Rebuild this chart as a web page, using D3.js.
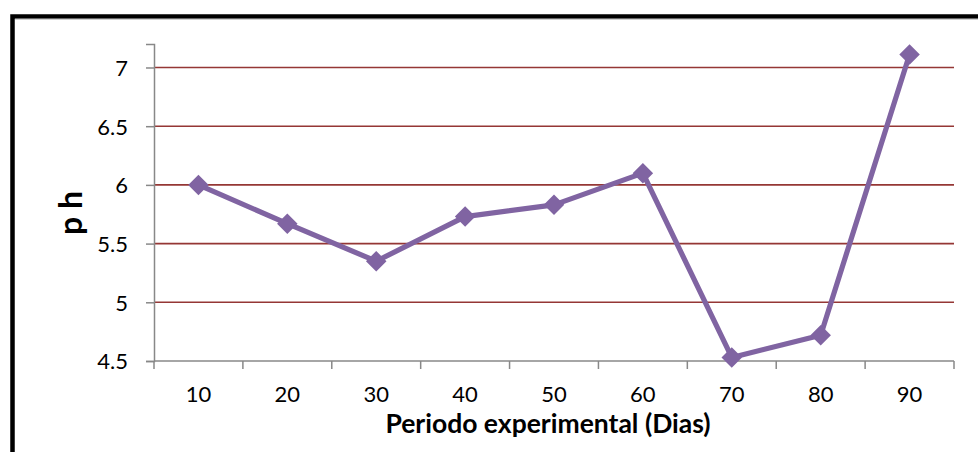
<!DOCTYPE html>
<html>
<head>
<meta charset="utf-8">
<script src="https://cdn.jsdelivr.net/npm/d3@7"></script>
<style>
  body { margin: 0; background: #fff; }
  svg text { font-family: Lato, "Open Sans", sans-serif; fill: #000; }
</style>
</head>
<body>
<svg id="chart"></svg>
<script>
const days = ["10", "20", "30", "40", "50", "60", "70", "80", "90"];
const phValues = [6.0, 5.67, 5.35, 5.73, 5.83, 6.1, 4.53, 4.72, 7.11];
const yTicks = [4.5, 5, 5.5, 6, 6.5, 7];

const width = 978;
const height = 452;
const margin = { top: 44, right: 24, bottom: 91, left: 154 };

const svg = d3.select("#chart").attr("width", width).attr("height", height);

// chart frame (cropped on right/bottom)
svg.append("path")
  .attr("d", `M12.5,${height} L12.5,16.5 L${width},16.5`)
  .attr("fill", "none")
  .attr("stroke", "#000")
  .attr("stroke-width", 4.5);
svg.append("line")
  .attr("x1", 15).attr("x2", width)
  .attr("y1", 19.2).attr("y2", 19.2)
  .attr("stroke", "#bbb")
  .attr("stroke-width", 1);

const x = d3.scaleBand()
  .domain(days)
  .range([margin.left, width - margin.right])
  .padding(0);

const y = d3.scaleLinear()
  .domain([4.5, 7.2])
  .range([height - margin.bottom, margin.top]);

// gridlines
svg.append("g")
  .selectAll("line")
  .data(yTicks.filter((d) => d !== 4.5))
  .enter()
  .append("line")
  .attr("x1", margin.left)
  .attr("x2", width - margin.right)
  .attr("y1", (d) => y(d))
  .attr("y2", (d) => y(d))
  .attr("stroke", "#953735")
  .attr("stroke-width", 1.6);

// y axis
const yAxis = d3.axisLeft(y)
  .tickValues(yTicks)
  .tickSize(8)
  .tickPadding(18)
  .tickFormat(d3.format("~g"));

const gy = svg.append("g")
  .attr("transform", `translate(${margin.left},0)`)
  .call(yAxis);
gy.select(".domain").attr("stroke", "#888").attr("stroke-width", 1.5);
gy.selectAll(".tick line").attr("stroke", "#888").attr("stroke-width", 1.5);
gy.selectAll(".tick text").style("font-size", "22px").attr("dy", "0.36em");

// x axis (ticks on category boundaries)
const gx = svg.append("g")
  .attr("transform", `translate(0,${y(4.5)})`);
gx.append("line")
  .attr("x1", margin.left)
  .attr("x2", width - margin.right)
  .attr("stroke", "#888")
  .attr("stroke-width", 1.5);
const bounds = days.map((d) => x(d)).concat([x(days[days.length - 1]) + x.bandwidth()]);
gx.selectAll(".bound")
  .data(bounds)
  .enter()
  .append("line")
  .attr("class", "bound")
  .attr("x1", (d) => d)
  .attr("x2", (d) => d)
  .attr("y1", 0)
  .attr("y2", 8)
  .attr("stroke", "#888")
  .attr("stroke-width", 1.5);
gx.selectAll(".lbl")
  .data(days)
  .enter()
  .append("text")
  .attr("class", "lbl")
  .attr("x", (d) => x(d) + x.bandwidth() / 2)
  .attr("y", 41)
  .attr("text-anchor", "middle")
  .style("font-size", "22px")
  .text((d) => d);

// series
const pts = days.map((d, i) => [x(d) + x.bandwidth() / 2, y(phValues[i])]);

svg.append("path")
  .datum(pts)
  .attr("fill", "none")
  .attr("stroke", "#8064A2")
  .attr("stroke-width", 5.2)
  .attr("stroke-linejoin", "round")
  .attr("d", d3.line());

const diamond = {
  draw(ctx, size) {
    const r = Math.sqrt(size) / 2;
    ctx.moveTo(0, -r);
    ctx.lineTo(r, 0);
    ctx.lineTo(0, r);
    ctx.lineTo(-r, 0);
    ctx.closePath();
  }
};

svg.append("g")
  .selectAll("path")
  .data(pts)
  .enter()
  .append("path")
  .attr("transform", (d) => `translate(${d[0]},${d[1]})`)
  .attr("d", d3.symbol().type(diamond).size(20.5 * 20.5))
  .attr("fill", "#8064A2");

// axis titles
svg.append("text")
  .attr("x", 548)
  .attr("y", 433)
  .attr("text-anchor", "middle")
  .style("font-size", "26.5px")
  .style("font-weight", "bold")
  .text("Periodo experimental (Dias)");

svg.append("text")
  .attr("transform", "translate(82,213) rotate(-90)")
  .attr("text-anchor", "middle")
  .style("font-size", "32px")
  .style("font-weight", "bold")
  .text("p h");
</script>
</body>
</html>
